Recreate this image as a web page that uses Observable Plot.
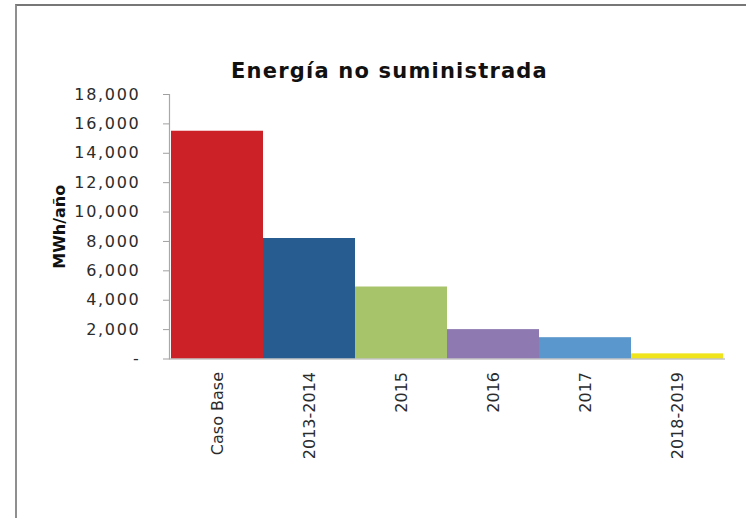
<!DOCTYPE html>
<html>
<head>
<meta charset="utf-8">
<script src="https://cdn.jsdelivr.net/npm/d3@7"></script>
<script src="https://cdn.jsdelivr.net/npm/@observablehq/plot@0.6"></script>
<style>
  html, body { margin: 0; padding: 0; background: #fff; }
  #wrap { position: relative; width: 746px; height: 518px; overflow: hidden; }
  #border { position: absolute; left: 15px; top: 4px; width: 800px; height: 600px;
            border-top: 2px solid #777; border-left: 2px solid #8f8f8f; pointer-events: none; }
  #chart svg { display: block; }
  #chart g[aria-label="y-axis tick label"] text { letter-spacing: 1.7px; }
</style>
</head>
<body>
<div id="wrap">
  <div id="chart"></div>
  <div id="border"></div>
</div>
<script>
const title = "Energía no suministrada";
const yLabel = "MWh/año";
const categories = ["Caso Base", "2013-2014", "2015", "2016", "2017", "2018-2019"];
const values = [15500, 8200, 4900, 2000, 1450, 350];
const yTicks = [0, 2000, 4000, 6000, 8000, 10000, 12000, 14000, 16000, 18000];
const palette = ["#CB2127", "#265C8F", "#A8C46B", "#8F79B1", "#5A97CD", "#F0E41C"];

const data = categories.map((c, i) => ({category: c, value: values[i]}));
const fmt = d3.format(",");

const chart = Plot.plot({
  width: 746,
  height: 518,
  marginLeft: 169,
  marginRight: 21,
  marginTop: 94,
  marginBottom: 159.5,
  style: { fontFamily: "DejaVu Sans", fontSize: "16px", color: "#2b2b2b", background: "#fff" },
  x: { domain: categories, padding: 0 },
  y: { domain: [0, 18000] },
  color: { domain: categories, range: palette },
  marks: [
    Plot.barY(data, { x: "category", y: "value", fill: "category" }),
    Plot.ruleY([0], { stroke: "#a8a8a8", strokeWidth: 1.2 }),
    Plot.frame({ anchor: "left", stroke: "#a8a8a8", strokeWidth: 1.2 }),
    Plot.axisY({
      ticks: yTicks,
      tickSize: 6,
      tickPadding: 23,
      tickFormat: d => d === 0 ? "-" : fmt(d),
      stroke: "#a0a0a0",
      fill: "#2b2b2b",
      fontSize: 16,
      label: null
    }),
    Plot.axisX({
      tickSize: 0,
      tickPadding: 13,
      tickRotate: -90,
      fill: "#2b2b2b",
      fontSize: 16,
      label: null
    }),
    Plot.text([title], {
      frameAnchor: "top",
      textAnchor: "middle",
      dx: -58,
      dy: -16.5,
      lineAnchor: "bottom",
      fontSize: 21,
      fontWeight: "bold",
      fill: "#111"
    }),
    Plot.text([yLabel], {
      frameAnchor: "left",
      textAnchor: "middle",
      rotate: -90,
      dx: -110,
      lineAnchor: "middle",
      fontSize: 16,
      fontWeight: "bold",
      fill: "#111"
    })
  ]
});
document.getElementById("chart").appendChild(chart);
// letter spacing for the title to approximate the wider original face
chart.querySelectorAll("text").forEach(t => {
  if (t.textContent === title) t.setAttribute("letter-spacing", "1.2");
});
</script>
</body>
</html>
